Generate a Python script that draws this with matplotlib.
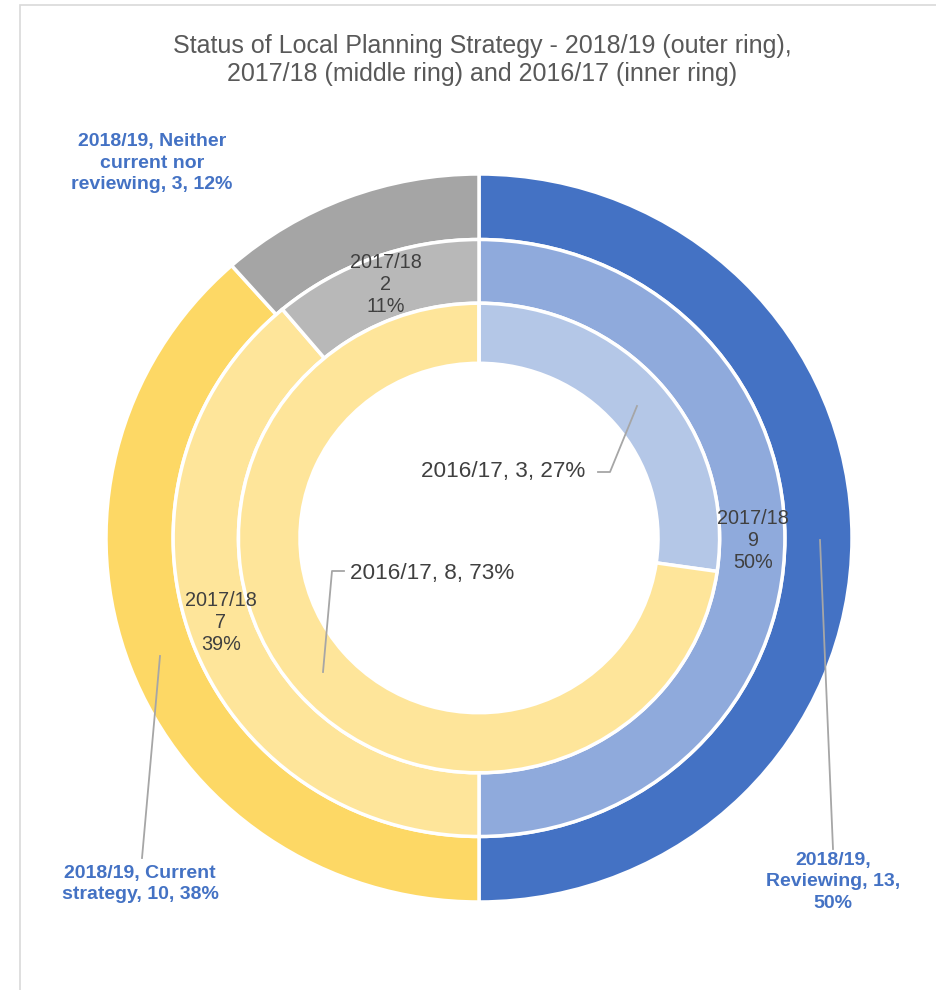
import matplotlib.pyplot as plt
from matplotlib.lines import Line2D
from matplotlib.patches import Rectangle

# ring data (clockwise from 12 o'clock): Reviewing, Current strategy, Neither
CATEGORIES = ["Reviewing", "Current strategy", "Neither current nor reviewing"]
OUTER_2018_19 = [13, 10, 3]
MIDDLE_2017_18 = [9, 7, 2]
INNER_2016_17 = [3, 8, 0]

TITLE = ("Status of Local Planning Strategy - 2018/19 (outer ring),\n"
         "2017/18 (middle ring) and 2016/17 (inner ring)")

OUTER_COLORS = ["#4472c4", "#fdd865", "#a5a5a5"]
MIDDLE_COLORS = ["#8faadc", "#fee59a", "#b8b8b8"]
INNER_COLORS = ["#b4c7e7", "#fee59a", "#d0d0d0"]
LABEL_BLUE, INK, TITLE_INK, LEADER = "#4472c4", "#404040", "#595959", "#a6a6a6"

W, H = 937, 990
plt.rcParams["font.family"] = ["Liberation Sans", "DejaVu Sans"]


def fx(x, y):
    """pixel (from top-left) -> figure fraction"""
    return x / W, 1 - y / H


def pct(vals):
    tot = sum(vals)
    return [round(100 * v / tot) for v in vals]


fig = plt.figure(figsize=(W / 100, H / 100), dpi=100, facecolor="white")
fig.add_artist(Rectangle(fx(20, 995), (W - 18) / W, 990 / H, transform=fig.transFigure,
                         fill=False, edgecolor="#d9d9d9", linewidth=1.2))

# pie axes: centre at (479, 538) px, radii 373 px across / 364 px down
cx, cy, rx, ry = 479, 538, 373, 364
ax = fig.add_axes([(cx - rx) / W, (H - cy - ry) / H, 2 * rx / W, 2 * ry / H])
wp = dict(edgecolor="white", linewidth=2.5)
ax.pie(OUTER_2018_19, radius=1.0, startangle=90, counterclock=False,
       colors=OUTER_COLORS, wedgeprops=dict(width=0.18, **wp))
ax.pie(MIDDLE_2017_18, radius=0.82, startangle=90, counterclock=False,
       colors=MIDDLE_COLORS, wedgeprops=dict(width=0.175, **wp))
ax.pie(INNER_2016_17, radius=0.645, startangle=90, counterclock=False,
       colors=INNER_COLORS, wedgeprops=dict(width=0.165, **wp))
ax.set_aspect("auto")
ax.set_xlim(-1, 1)
ax.set_ylim(-1, 1)
ax.axis("off")

fig.text(*fx(482, 60), TITLE, ha="center", va="center", fontsize=18,
         color=TITLE_INK, linespacing=1.25)

# outer ring labels
bold = dict(ha="center", va="center", fontsize=14, fontweight="bold", color=LABEL_BLUE,
            linespacing=1.38)
po = pct(OUTER_2018_19)
fig.text(*fx(152, 163), f"2018/19, Neither\ncurrent nor\nreviewing, {OUTER_2018_19[2]}, {po[2]}%",
         **bold)
fig.text(*fx(140, 884), f"2018/19, Current\nstrategy, {OUTER_2018_19[1]}, {po[1]}%", **bold)
fig.text(*fx(833, 882), f"2018/19,\nReviewing, {OUTER_2018_19[0]},\n{po[0]}%", **bold)

# middle ring labels
pm = pct(MIDDLE_2017_18)
for (x, y), v, p in zip([(753, 540), (221, 623), (386, 285)], MIDDLE_2017_18, pm):
    fig.text(*fx(x, y), f"2017/18\n{v}\n{p}%", ha="center", va="center",
             fontsize=14.3, color=INK, linespacing=1.2)

# inner ring labels
pi = pct(INNER_2016_17)
fig.text(*fx(503, 471), f"2016/17, {INNER_2016_17[0]}, {pi[0]}%", ha="center", va="center",
         fontsize=16.2, color=INK)
fig.text(*fx(350, 573), f"2016/17, {INNER_2016_17[1]}, {pi[1]}%", ha="left", va="center",
         fontsize=16.2, color=INK)

leaders = [
    [(142, 858), (160, 656)],
    [(833, 849), (820, 540)],
    [(598, 472), (610, 472), (637, 406)],
    [(344, 571), (332, 571), (323, 672)],
]
for pts in leaders:
    xs, ys = zip(*[fx(x, y) for x, y in pts])
    fig.add_artist(Line2D(xs, ys, transform=fig.transFigure, color=LEADER, linewidth=1.3))

fig.savefig("out.png", dpi=100, facecolor="white")
